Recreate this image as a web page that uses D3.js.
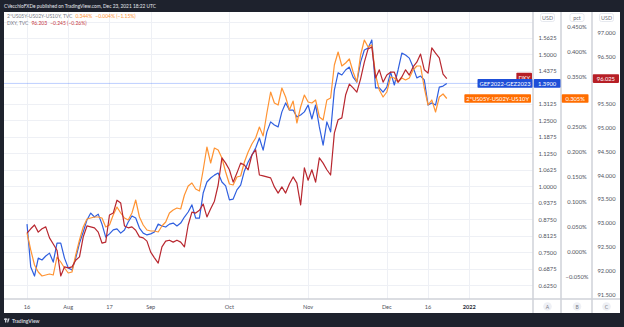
<!DOCTYPE html>
<html>
<head>
<meta charset="utf-8">
<script src="https://cdn.jsdelivr.net/npm/d3@7"></script>
<style>
  html, body { margin: 0; padding: 0; background: #1e222d; }
  svg { display: block; font-family: Lato, "Noto Sans", sans-serif; }
</style>
</head>
<body>
<svg id="chart" width="624" height="327"></svg>
<script>
// Trading sessions (daily bars)
const sessions = (
  "2021-07-16 2021-07-19 2021-07-20 2021-07-21 2021-07-22 2021-07-23 2021-07-26 2021-07-27 2021-07-28 2021-07-29 " +
  "2021-07-30 2021-08-02 2021-08-03 2021-08-04 2021-08-05 2021-08-06 2021-08-09 2021-08-10 2021-08-11 2021-08-12 " +
  "2021-08-13 2021-08-16 2021-08-17 2021-08-18 2021-08-19 2021-08-20 2021-08-23 2021-08-24 2021-08-25 2021-08-26 " +
  "2021-08-27 2021-08-30 2021-08-31 2021-09-01 2021-09-02 2021-09-03 2021-09-07 2021-09-08 2021-09-09 2021-09-10 " +
  "2021-09-13 2021-09-14 2021-09-15 2021-09-16 2021-09-17 2021-09-20 2021-09-21 2021-09-22 2021-09-23 2021-09-24 " +
  "2021-09-27 2021-09-28 2021-09-29 2021-09-30 2021-10-01 2021-10-04 2021-10-05 2021-10-06 2021-10-07 2021-10-08 " +
  "2021-10-11 2021-10-12 2021-10-13 2021-10-14 2021-10-15 2021-10-18 2021-10-19 2021-10-20 2021-10-21 2021-10-22 " +
  "2021-10-25 2021-10-26 2021-10-27 2021-10-28 2021-10-29 2021-11-01 2021-11-02 2021-11-03 2021-11-04 2021-11-05 " +
  "2021-11-08 2021-11-09 2021-11-10 2021-11-11 2021-11-12 2021-11-15 2021-11-16 2021-11-17 2021-11-18 2021-11-19 " +
  "2021-11-22 2021-11-23 2021-11-24 2021-11-26 2021-11-29 2021-11-30 2021-12-01 2021-12-02 2021-12-03 2021-12-06 " +
  "2021-12-07 2021-12-08 2021-12-09 2021-12-10 2021-12-13 2021-12-14 2021-12-15 2021-12-16 2021-12-17 2021-12-20 " +
  "2021-12-21 2021-12-22 2021-12-23").split(" ");
const futureSessions = ["2021-12-27", "2021-12-28", "2021-12-29", "2021-12-30", "2021-12-31", "2022-01-03"];

// GEF2022-GEZ2023 (USD, left of the three scales)
const gefSpread = [
  0.856,0.693,0.659,0.727,0.720,0.735,0.746,0.712,0.784,0.784,
  0.727,0.690,0.682,0.727,0.784,0.826,0.872,0.898,0.883,0.894,
  0.856,0.807,0.819,0.834,0.838,0.822,0.834,0.864,0.887,0.879,
  0.841,0.822,0.815,0.819,0.826,0.856,0.849,0.845,0.856,0.860,
  0.849,0.860,0.883,0.902,0.929,0.879,0.879,0.974,1.016,1.031,
  1.042,1.050,1.016,1.001,0.948,0.951,0.986,1.004,1.058,1.092,
  1.118,1.145,1.183,1.137,1.206,1.244,1.232,1.225,1.282,1.316,
  1.289,1.289,1.263,1.270,1.282,1.308,1.255,1.308,1.225,1.156,
  1.244,1.206,1.365,1.430,1.422,1.441,1.452,1.414,1.395,1.471,
  1.517,1.524,1.555,1.373,1.373,1.357,1.376,1.433,1.384,1.441,
  1.505,1.498,1.486,1.452,1.411,1.418,1.403,1.308,1.316,1.308,
  1.376,1.380,1.390];

// 2*US05Y-US02Y-US10Y (pct)
const flySpread = [
  0.036,0.002,-0.028,-0.042,-0.050,-0.048,-0.046,-0.048,-0.012,-0.022,
  -0.034,-0.044,-0.042,-0.008,0.022,0.048,0.064,0.066,0.068,0.068,
  0.066,0.048,0.052,0.072,0.088,0.076,0.066,0.062,0.076,0.102,
  0.068,0.052,0.042,0.040,0.040,0.038,0.050,0.058,0.076,0.082,
  0.086,0.084,0.112,0.130,0.136,0.124,0.120,0.162,0.208,0.176,
  0.206,0.202,0.186,0.158,0.134,0.132,0.148,0.150,0.178,0.198,
  0.214,0.226,0.248,0.230,0.276,0.318,0.296,0.292,0.326,0.308,
  0.282,0.300,0.256,0.288,0.312,0.298,0.296,0.302,0.268,0.262,
  0.302,0.306,0.372,0.398,0.370,0.376,0.384,0.358,0.338,0.392,
  0.422,0.408,0.412,0.352,0.322,0.308,0.318,0.348,0.346,0.338,
  0.346,0.342,0.346,0.362,0.370,0.370,0.326,0.292,0.302,0.278,
  0.308,0.314,0.305];

// DXY (USD)
const dxy = [
  92.78,92.87,92.95,92.80,92.87,92.91,92.68,92.55,92.42,91.88,
  92.07,92.05,92.07,92.21,92.28,92.70,92.93,92.91,92.89,92.80,
  92.57,92.59,93.16,93.20,93.47,93.41,92.93,92.89,92.91,92.84,
  92.70,92.68,92.61,92.38,92.26,92.15,92.49,92.61,92.63,92.59,
  92.63,92.59,92.49,92.95,93.22,93.20,93.26,93.39,93.12,93.29,
  93.45,93.79,94.36,94.25,94.11,93.85,94.04,94.25,94.21,94.11,
  94.42,94.53,94.00,93.98,93.96,93.94,93.75,93.62,93.75,93.62,
  93.81,93.96,93.83,93.37,94.15,93.89,94.11,93.85,94.36,94.25,
  94.11,94.00,94.88,95.16,95.20,95.68,95.91,95.83,95.74,96.02,
  96.37,96.65,96.69,96.04,96.21,95.95,96.10,96.16,96.16,95.95,
  96.06,96.21,96.10,96.27,96.37,96.54,96.21,96.14,96.67,96.56,
  96.46,96.12,96.025];

// Axis ticks
const ticksA = [0.625,0.6875,0.75,0.8125,0.875,0.9375,1.0,1.0625,1.125,1.1875,1.25,1.3125,1.375,1.4375,1.5,1.5625,1.625];
const ticksB = [-0.05,0,0.05,0.1,0.15,0.2,0.25,0.3,0.35,0.4,0.45];
const ticksC = [91.5,92,92.5,93,93.5,94,94.5,95,95.5,96,96.5,97];
const timeTickDates = ["2021-07-16","2021-08-02","2021-08-17","2021-09-01","2021-10-01","2021-11-01","2021-12-01","2021-12-16","2022-01-03"];
const timeTickLabels = ["16","Aug","17","Sep","Oct","Nov","Dec","16","2022"];

// Legend texts
const seriesNames = ["GEF2022-GEZ2023", "2*US05Y-US02Y-US10Y", "DXY"];
const legendRows = [
  { name: "2*US05Y-US02Y-US10Y, TVC", value: "0.344%", change: "\u22120.004% (\u22121.15%)", color: "#ff9332" },
  { name: "DXY, TVC", value: "96.203", change: "\u22120.245 (\u22120.26%)", color: "#c4343c" }
];

const colors = { blue: "#2f5fdf", orange: "#ff9332", red: "#b8272f",
                 blueTag: "#1e4fd8", orangeTag: "#ff6d00", redTag: "#b71f26" };

// ---- layout ----
const W = 624, H = 327;
const panel = { x0: 4, y0: 12, x1: 620, y1: 313 };
const plot = { x0: 4, x1: 533, y0: 12, y1: 299 };
const colA = [533, 561], colB = [561, 592], colC = [592, 620];

const svg = d3.select("#chart");
svg.append("rect").attr("width", W).attr("height", H).attr("fill", "#1e222d");
svg.append("rect").attr("x", panel.x0).attr("y", panel.y0)
  .attr("width", panel.x1 - panel.x0).attr("height", panel.y1 - panel.y0).attr("fill", "#ffffff");

// Scales
const allSessions = sessions.concat(futureSessions);
const x = d3.scaleLinear().domain([-6.14, 135]).range([plot.x0, plot.x1]);
const yA = d3.scaleLinear().domain([0.625, 1.5625]).range([285, 37.97]);
const yB = d3.scaleLinear().domain([-0.05, 0.45]).range([276, 26]);
const yC = d3.scaleLinear().domain([91.5, 97]).range([294, 32.2]);

// Grid
const grid = svg.append("g").attr("stroke", "#eef0f5").attr("stroke-width", 1);
ticksA.forEach(v => {
  const yy = Math.round(yA(v)) + 0.5;
  if (yy > plot.y0 && yy < plot.y1)
    grid.append("line").attr("x1", plot.x0).attr("x2", plot.x1).attr("y1", yy).attr("y2", yy);
});
timeTickDates.forEach(d => {
  const xx = Math.round(x(allSessions.indexOf(d))) + 0.5;
  grid.append("line").attr("x1", xx).attr("x2", xx).attr("y1", plot.y0).attr("y2", plot.y1);
});

// Series
svg.append("clipPath").attr("id", "plotClip").append("rect")
  .attr("x", plot.x0).attr("y", plot.y0).attr("width", plot.x1 - plot.x0).attr("height", plot.y1 - plot.y0);
const lines = svg.append("g").attr("clip-path", "url(#plotClip)");

const lastA = gefSpread[gefSpread.length - 1];
const lastB = flySpread[flySpread.length - 1];
const lastC = dxy[dxy.length - 1];

// last-value line of the main series
lines.append("line").attr("x1", plot.x0).attr("x2", plot.x1)
  .attr("y1", yA(lastA)).attr("y2", yA(lastA))
  .attr("stroke", "#2962ff").attr("stroke-opacity", 0.3).attr("stroke-width", 1);

const mk = (scale) => d3.line().x((d, i) => x(i)).y(d => scale(d));
lines.append("path").datum(gefSpread).attr("d", mk(yA))
  .attr("fill", "none").attr("stroke", colors.blue).attr("stroke-width", 1.2).attr("stroke-linejoin", "round");
lines.append("path").datum(flySpread).attr("d", mk(yB))
  .attr("fill", "none").attr("stroke", colors.orange).attr("stroke-width", 1.2).attr("stroke-linejoin", "round");
lines.append("path").datum(dxy).attr("d", mk(yC))
  .attr("fill", "none").attr("stroke", colors.red).attr("stroke-width", 1.2).attr("stroke-linejoin", "round");

// Separators
const sep = svg.append("g").attr("stroke", "#cfd2d9").attr("stroke-width", 1.5);
[colA[0], colB[0], colC[0]].forEach(xx =>
  sep.append("line").attr("x1", xx).attr("x2", xx).attr("y1", panel.y0).attr("y2", panel.y1));
sep.append("line").attr("x1", panel.x0).attr("x2", panel.x1).attr("y1", plot.y1).attr("y2", plot.y1);

// Axis labels (a label is left out where a scale header or a value tag sits on it)
const axisText = (g, xx, yy, txt) => g.append("text").attr("x", xx).attr("y", yy)
  .attr("text-anchor", "middle").attr("dominant-baseline", "central")
  .attr("font-size", 5.8).attr("fill", "#50535e").text(txt);
const axes = svg.append("g");
const fmtA = d3.format(".4f");
const free = (yy, lastY) => yy > 25 && Math.abs(yy - lastY) > 7;
ticksA.forEach(v => { if (free(yA(v), yA(lastA))) axisText(axes, (colA[0] + colA[1]) / 2 + 0.5, yA(v), fmtA(v)); });
ticksB.forEach(v => { if (free(yB(v), yB(lastB))) axisText(axes, (colB[0] + colB[1]) / 2 + 0.5, yB(v),
  (v < 0 ? "\u2212" : "") + Math.abs(v).toFixed(3) + "%"); });
ticksC.forEach(v => { if (free(yC(v), yC(lastC))) axisText(axes, (colC[0] + colC[1]) / 2 + 0.5, yC(v), v.toFixed(3)); });

// Time axis labels
timeTickDates.forEach((d, i) => {
  svg.append("text").attr("x", x(allSessions.indexOf(d))).attr("y", 306.5)
    .attr("text-anchor", "middle").attr("dominant-baseline", "central")
    .attr("font-size", 5.6)
    .attr("font-weight", timeTickLabels[i] === "2022" ? "bold" : "normal")
    .attr("fill", timeTickLabels[i] === "2022" ? "#2a2e39" : "#50535e")
    .text(timeTickLabels[i]);
});

// Scale headers
[["USD", colA], ["pct", colB], ["USD", colC]].forEach(([t, c]) => {
  const cx = (c[0] + c[1]) / 2 + 0.5;
  svg.append("rect").attr("x", cx - 7).attr("y", 13.5).attr("width", 14).attr("height", 8)
    .attr("rx", 2).attr("fill", "#ffffff").attr("stroke", "#e0e3eb").attr("stroke-width", 0.8);
  svg.append("text").attr("x", cx).attr("y", 17.6).attr("text-anchor", "middle")
    .attr("dominant-baseline", "central").attr("font-size", 5.4).attr("fill", "#6a6d78").text(t);
});

// Scale badges at the bottom
[["A", colA], ["B", colB], ["C", colC]].forEach(([t, c]) => {
  const cx = (c[0] + c[1]) / 2 + 0.5;
  svg.append("circle").attr("cx", cx).attr("cy", 306.5).attr("r", 4.3).attr("fill", "#eef0f5");
  svg.append("text").attr("x", cx).attr("y", 306.7).attr("text-anchor", "middle")
    .attr("dominant-baseline", "central").attr("font-size", 5).attr("fill", "#787b86").text(t);
});

// Last-value tags
function tag(xLeft, xRight, yy, fill, txt, alignRight) {
  const g = svg.append("g");
  const t = g.append("text").attr("y", yy).attr("dominant-baseline", "central")
    .attr("font-size", 5.8).attr("fill", "#ffffff").text(txt);
  let x0 = xLeft, x1 = xRight;
  if (alignRight) {
    const w = t.node().getComputedTextLength() + 4;
    x0 = xRight - w;
  }
  g.insert("rect", "text").attr("x", x0).attr("y", yy - 4.3).attr("width", x1 - x0).attr("height", 8.6)
    .attr("fill", fill).attr("rx", 0.8);
  t.attr("x", (x0 + x1) / 2).attr("text-anchor", "middle");
}
// name tags inside the pane
tag(0, 532, yC(lastC) - 1.5, colors.redTag, seriesNames[2], true);
tag(0, 532.5, yA(lastA), colors.blueTag, seriesNames[0], true);
tag(0, 531, yB(lastB), colors.orangeTag, seriesNames[1], true);
// value tags on the scales
tag(colA[0] + 0.8, colA[1] - 0.5, yA(lastA), colors.blueTag, lastA.toFixed(4), false);
tag(colB[0] + 0.8, colB[1] - 3.5, yB(lastB), colors.orangeTag, lastB.toFixed(3) + "%", false);
tag(colC[0] + 0.8, colC[1] - 1, yC(lastC), colors.redTag, lastC.toFixed(3), false);

// Legend
legendRows.forEach((r, i) => {
  const t = svg.append("text").attr("x", 7).attr("y", 17.8 + i * 7).attr("font-size", 5).attr("fill", "#787b86");
  t.append("tspan").text(r.name);
  t.append("tspan").attr("dx", 3).attr("fill", r.color).text(r.value);
  t.append("tspan").attr("dx", 3).attr("fill", r.color).text(r.change);
});

// Header & footer
svg.append("text").attr("x", 4).attr("y", 8).attr("font-size", 4.8).attr("fill", "#e6e8ee")
  .text("CVecchioFXDe published on TradingView.com, Dec 23, 2021 18:22 UTC");
const logo = svg.append("g").attr("fill", "#d1d4dc");
logo.append("rect").attr("x", 4).attr("y", 318.5).attr("width", 3).attr("height", 1.4);
logo.append("rect").attr("x", 5).attr("y", 318.5).attr("width", 1.3).attr("height", 4);
logo.append("path").attr("d", "M7.6 318.5 L9.6 318.5 L8.2 322.5 L7.2 322.5 Z");
logo.append("text").attr("x", 12).attr("y", 322.5).attr("font-size", 5).attr("font-weight", "bold")
  .text("TradingView");
</script>
</body>
</html>
